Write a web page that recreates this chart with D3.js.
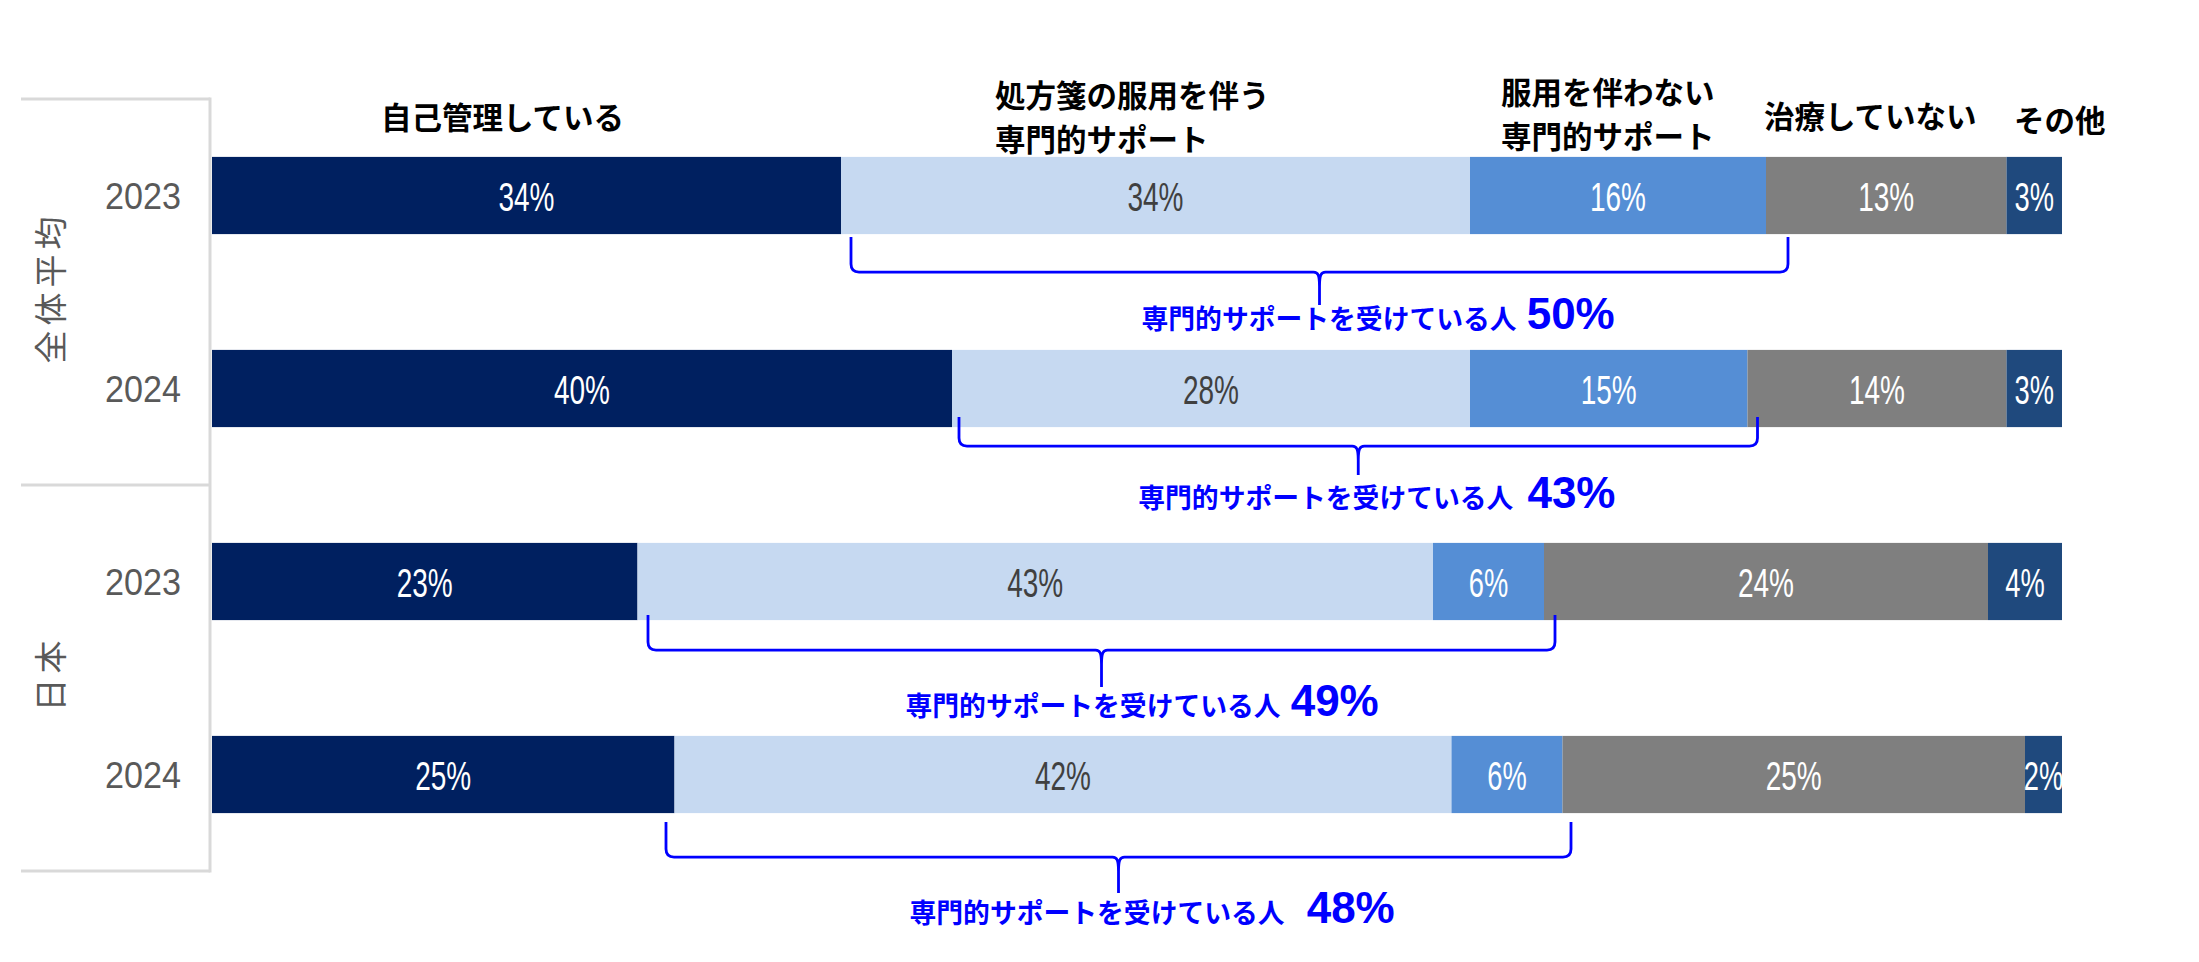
<!DOCTYPE html>
<html><head><meta charset="utf-8">
<script src="https://cdn.jsdelivr.net/npm/d3@7"></script>
<style>
html,body{margin:0;padding:0;background:#fff;}
svg{display:block;}
</style></head>
<body>
<svg id="chart" width="2199" height="962"></svg>
<script>
// ---------- data ----------
const groups = ["全体平均", "日本"];
const rowGroups = ["全体平均", "全体平均", "日本", "日本"];
const years = ["2023", "2024", "2023", "2024"];
const categories = ["自己管理している", "処方箋の服用を伴う専門的サポート", "服用を伴わない専門的サポート", "治療していない", "その他"];
const categoryLines = [["自己管理している"], ["処方箋の服用を伴う", "専門的サポート"], ["服用を伴わない", "専門的サポート"], ["治療していない"], ["その他"]];
const selfManaged = [34, 40, 23, 25];
const rxSupport = [34, 28, 43, 42];
const nonRxSupport = [16, 15, 6, 6];
const noTreatment = [13, 14, 24, 25];
const otherValues = [3, 3, 4, 2];
const supportLabel = "専門的サポートを受けている人";
const supportCategories = [categories[1], categories[2]];

// ---------- styles / layout ----------
const colors = ["#002060", "#C6D9F1", "#558ED5", "#7F7F7F", "#1F497D"];
const labelColors = ["#ffffff", "#404040", "#ffffff", "#ffffff", "#ffffff"];
const headerLayout = [
  {x: 381, y: 116},
  {x: 995, y: 93.5, lead: 44.5},
  {x: 1501, y: 90.5, lead: 44.5},
  {x: 1764, y: 115},
  {x: 2014, y: 119}
];
// bracket offsets relative to bar bottom / segment edges
const braceLayout = [
  {top: 3, line: 38, tip: 71, dl: 10, dr: 22, lx: -178, ly: 84, gap: 10},
  {top: -10, line: 19, tip: 48, dl: 7, dr: 10, lx: -220, ly: 70, gap: 14},
  {top: -5, line: 30, tip: 67, dl: 10.5, dr: 11, lx: -196, ly: 85, gap: 10},
  {top: 9, line: 44, tip: 80, dl: -8.5, dr: 8.5, lx: -209, ly: 99, gap: 22}
];
const CJK = "'Noto Sans CJK JP', 'Noto Sans', sans-serif";
const NARROW = "'Liberation Sans Narrow', 'Liberation Sans', Arial, sans-serif";
const SANS = "'Liberation Sans', Arial, sans-serif";

const svg = d3.select("#chart");
const rows = d3.range(years.length);

const x = d3.scaleLinear().domain([0, 100]).range([212, 2062]);
const y = d3.scaleBand().domain(rows).range([99, 871]).paddingInner(0.6).paddingOuter(0.3);
const yGroup = d3.scaleBand().domain(groups).range([99, 871]);

const table = rows.map(i => ({
  row: i,
  [categories[0]]: selfManaged[i],
  [categories[1]]: rxSupport[i],
  [categories[2]]: nonRxSupport[i],
  [categories[3]]: noTreatment[i],
  [categories[4]]: otherValues[i]
}));
const series = d3.stack().keys(categories)(table);

// ---------- frame lines ----------
const lineColor = "#D9D9D9";
const frame = svg.append("g").attr("stroke", lineColor).attr("stroke-width", 3);
const groupEdges = [yGroup.range()[0]].concat(groups.map(g => yGroup(g) + yGroup.bandwidth()));
frame.selectAll("line.h").data(groupEdges).join("line")
  .attr("class", "h").attr("x1", 21).attr("x2", x(0) - 2)
  .attr("y1", d => d).attr("y2", d => d);
frame.append("line").attr("x1", x(0) - 2).attr("x2", x(0) - 2)
  .attr("y1", yGroup.range()[0] - 1.5).attr("y2", yGroup.range()[1] + 1.5);

// ---------- bars ----------
const layer = svg.append("g").selectAll("g").data(series).join("g")
  .attr("fill", (d, k) => colors[k]);
layer.selectAll("rect").data(d => d).join("rect")
  .attr("x", d => x(d[0]))
  .attr("y", d => y(d.data.row))
  .attr("width", d => x(d[1]) - x(d[0]))
  .attr("height", y.bandwidth());

// value labels
const lab = svg.append("g").selectAll("g").data(series).join("g")
  .attr("fill", (d, k) => labelColors[k]);
lab.selectAll("text").data(d => d).join("text")
  .attr("x", d => x((d[0] + d[1]) / 2))
  .attr("y", d => y(d.data.row) + y.bandwidth() / 2 + 15)
  .attr("text-anchor", "middle")
  .attr("font-family", NARROW)
  .attr("font-size", 41)
  .text(d => Math.round(d[1] - d[0]) + "%")
  .attr("textLength", d => String(Math.round(d[1] - d[0])).length * 16.5 + 23)
  .attr("lengthAdjust", "spacingAndGlyphs");

// ---------- headers ----------
const hdr = svg.append("g").attr("font-family", CJK).attr("font-weight", 700)
  .attr("font-size", 30.5).attr("fill", "#000");
categoryLines.forEach((lines, k) => {
  const t = hdr.append("text").attr("y", headerLayout[k].y).attr("dominant-baseline", "central");
  lines.forEach((line, j) => {
    t.append("tspan").attr("x", headerLayout[k].x)
      .attr("dy", j === 0 ? 0 : headerLayout[k].lead)
      .attr("dominant-baseline", "central")
      .text(line);
  });
});

// ---------- year labels ----------
svg.append("g").selectAll("text").data(rows).join("text")
  .attr("x", 181)
  .attr("y", i => y(i) + y.bandwidth() / 2 + 13.5)
  .attr("text-anchor", "end")
  .attr("font-family", SANS)
  .attr("font-size", 37)
  .attr("fill", "#595959")
  .attr("textLength", 76).attr("lengthAdjust", "spacingAndGlyphs")
  .text(i => years[i]);

// ---------- group labels (rotated) ----------
svg.append("g").selectAll("text").data(groups).join("text")
  .attr("transform", g => `translate(49,${yGroup(g) + yGroup.bandwidth() / 2 - 2}) rotate(-90)`)
  .attr("text-anchor", "middle")
  .attr("dominant-baseline", "central")
  .attr("font-family", CJK)
  .attr("font-size", 33)
  .attr("letter-spacing", 5)
  .attr("dx", 2.5)
  .attr("fill", "#595959")
  .text(g => g);

// ---------- braces ----------
function bracePath(L, R, top, line, tip) {
  const cx = (L + R) / 2, r = 8, c = 6, h = 14;
  const p = d3.path();
  p.moveTo(L, top);
  p.lineTo(L, line - r);
  p.quadraticCurveTo(L, line, L + r, line);
  p.lineTo(cx - c, line);
  p.bezierCurveTo(cx - 1.5, line, cx, line + 3, cx, line + h);
  p.lineTo(cx, tip);
  p.moveTo(cx, line + h);
  p.bezierCurveTo(cx, line + 3, cx + 1.5, line, cx + c, line);
  p.lineTo(R - r, line);
  p.quadraticCurveTo(R, line, R, line - r);
  p.lineTo(R, top);
  return p.toString();
}
const braceG = svg.append("g");
rows.forEach(i => {
  const s1 = series[categories.indexOf(supportCategories[0])][i];
  const s2 = series[categories.indexOf(supportCategories[1])][i];
  const L = braceLayout[i];
  const bb = y(i) + y.bandwidth();
  const xl = x(s1[0]) + L.dl, xr = x(s2[1]) + L.dr;
  const cx = (xl + xr) / 2;
  braceG.append("path")
    .attr("d", bracePath(xl, xr, bb + L.top, bb + L.line, bb + L.tip))
    .attr("fill", "none").attr("stroke", "#0000FF").attr("stroke-width", 2.8)
    .attr("stroke-linejoin", "round").attr("stroke-linecap", "butt");
  const total = Math.round((s1[1] - s1[0]) + (s2[1] - s2[0]));
  const t = braceG.append("text")
    .attr("x", cx + L.lx).attr("y", bb + L.ly + 11)
    .attr("fill", "#0000FF").attr("font-weight", 700);
  t.append("tspan").attr("font-family", CJK).attr("font-size", 26.8).text(supportLabel);
  t.append("tspan").attr("dx", L.gap).attr("font-family", SANS).attr("font-size", 44).text(total + "%");
});
</script>
</body></html>
